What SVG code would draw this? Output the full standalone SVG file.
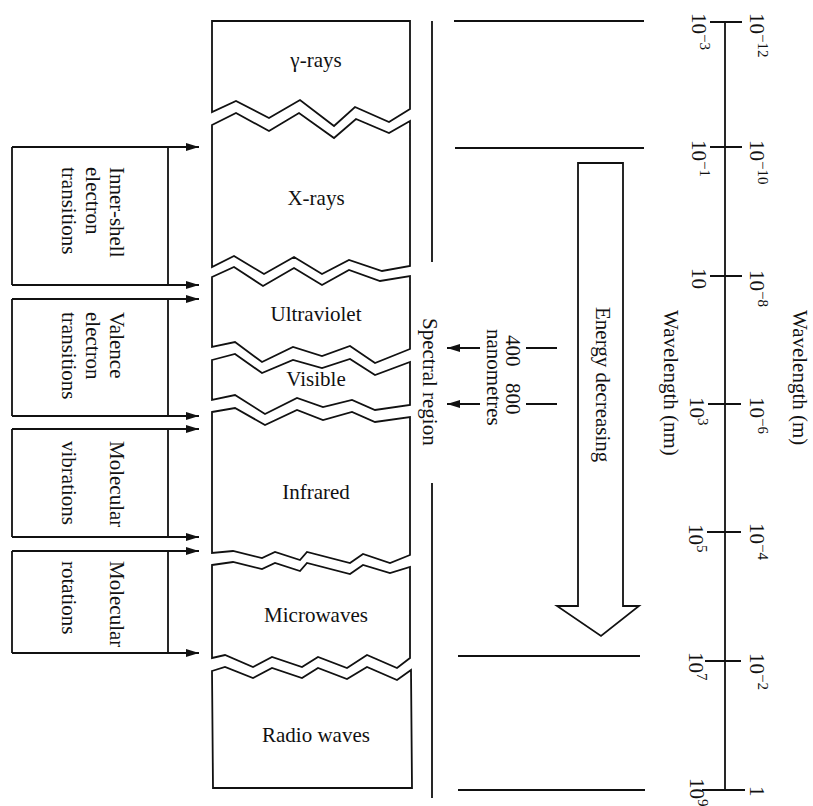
<svg xmlns="http://www.w3.org/2000/svg" width="813" height="806" viewBox="0 0 813 806">
<defs>
<marker id="ah" markerUnits="userSpaceOnUse" markerWidth="14" markerHeight="9" refX="13" refY="4" orient="auto">
<path d="M0,0 L13,4 L0,8 Z" fill="#111"/>
</marker>
<style>
.ln{fill:none;stroke:#111;stroke-width:1.8;stroke-linejoin:miter}
.t{font-family:"Liberation Serif","Times New Roman",serif;font-size:21px;fill:#111}
.c{text-anchor:middle}
.sup{font-size:15px}
</style>
</defs>
<rect width="813" height="806" fill="#fff"/>

<g id="bands">
<g id="gamma"><path class="ln" d="M212,112 L212,21 L410,21 L410,109 L389,122 L355,107 L334,126 L300,100 L269,118 L236,101 Z"/><text class="t c" x="316" y="67">γ-rays</text></g>
<g id="xrays"><path class="ln" d="M212,125 L236,113 L269,131 L299,113 L334,138 L356,119 L389,133 L410,121 L410,266 L382,271 L349,260 L322,274 L294,257 L264,274 L234,256 L212,267 Z"/><text class="t c" x="316" y="205">X-rays</text></g>
<g id="uv"><path class="ln" d="M212,277 L234,267 L263,286 L294,268 L322,285 L349,270 L380,281 L410,276 L410,349 L375,363 L350,346 L322,356 L293,347 L262,362 L235,342 L212,347 Z"/><text class="t c" x="316" y="321">Ultraviolet</text></g>
<g id="visible"><path class="ln" d="M212,360 L235,354 L262,373 L293,360 L322,368 L350,359 L375,375 L410,362 L410,405 L375,410 L352,400 L323,407 L297,398 L265,414 L235,395 L212,400 Z"/><text class="t c" x="316" y="386">Visible</text></g>
<g id="infrared"><path class="ln" d="M212,412 L235,408 L265,425 L297,410 L323,420 L352,412 L375,422 L410,417 L410,555 L390,563 L363,554 L350,563 L307,552 L300,560 L275,552 L262,558 L233,551 L212,553 Z"/><text class="t c" x="316" y="499">Infrared</text></g>
<g id="microwaves"><path class="ln" d="M212,565 L233,562 L262,569 L275,563 L300,571 L307,563 L350,574 L363,565 L390,573 L410,567 L410,658 L397,668 L367,655 L347,668 L318,657 L302,667 L272,657 L253,667 L225,655 L212,658 Z"/><text class="t c" x="316" y="622">Microwaves</text></g>
<g id="radio"><path class="ln" d="M212,671 L225,667 L253,678 L272,668 L302,678 L318,668 L347,679 L367,667 L397,680 L411,670 L412,788 L213,788 Z"/><text class="t c" x="316" y="742">Radio waves</text></g>
</g>

<g id="transitions">
<g id="inner-shell"><path class="ln" d="M12,147 L12,285 M168,147 L168,285"/>
<text class="t" transform="translate(110,167) rotate(90)">Inner-shell</text>
<text class="t" transform="translate(86,167) rotate(90)">electron</text>
<text class="t" transform="translate(62,167) rotate(90)">transitions</text></g>
<g id="valence"><path class="ln" d="M12,299 L12,416 M168,299 L168,416"/>
<text class="t" transform="translate(110,312) rotate(90)">Valence</text>
<text class="t" transform="translate(86,312) rotate(90)">electron</text>
<text class="t" transform="translate(62,312) rotate(90)">transitions</text></g>
<g id="vibrations"><path class="ln" d="M12,429 L12,537 M168,429 L168,537"/>
<text class="t" transform="translate(110,441) rotate(90)">Molecular</text>
<text class="t" transform="translate(62,441) rotate(90)">vibrations</text></g>
<g id="rotations"><path class="ln" d="M12,551 L12,653 M168,551 L168,653"/>
<text class="t" transform="translate(110,561) rotate(90)">Molecular</text>
<text class="t" transform="translate(62,561) rotate(90)">rotations</text></g>
</g>

<g id="connectors">
<path class="ln" marker-end="url(#ah)" d="M12,147 L199,147"/>
<path class="ln" marker-end="url(#ah)" d="M12,285 L199,285"/>
<path class="ln" marker-end="url(#ah)" d="M12,299 L199,299"/>
<path class="ln" marker-end="url(#ah)" d="M12,416 L199,416"/>
<path class="ln" marker-end="url(#ah)" d="M12,429 L199,429"/>
<path class="ln" marker-end="url(#ah)" d="M12,537 L199,537"/>
<path class="ln" marker-end="url(#ah)" d="M12,551 L199,551"/>
<path class="ln" marker-end="url(#ah)" d="M12,653 L199,653"/>
<path class="ln" marker-end="url(#ah)" d="M480,348 L447,348"/>
<path class="ln" marker-end="url(#ah)" d="M480,404 L447,404"/>
</g>

<g id="spectral-region">
<path class="ln" d="M432,21 L432,262 M432,483 L432,798"/>
<text class="t" transform="translate(423,318) rotate(90)">Spectral region</text>
</g>

<g id="visible-limits">
<path class="ln" d="M526,348 L557,348 M526,404 L557,404"/>
<text class="t" transform="translate(506,335) rotate(90)">400</text>
<text class="t" transform="translate(506,383) rotate(90)">800</text>
<text class="t" transform="translate(487,329) rotate(90)">nanometres</text>
</g>

<g id="energy">
<path class="ln" d="M578,163 L623,163 L623,606 L639,606 L601,636 L557,606 L578,606 Z"/>
<text class="t" transform="translate(596,307) rotate(90)">Energy decreasing</text>
</g>

<g id="guides">
<path class="ln" d="M454,21 L644,21 M455,148 L644,148 M458,656 L640,656 M458,790 L645,790"/>
</g>

<g id="scale">
<path class="ln" d="M725,22 L725,790 M710,22 L742,22 M710,147 L742,147 M710,276 L742,276 M708,404 L741,404 M707,532 L741,532 M705,661 L741,661 M702,790 L745,790"/>
<text class="t" transform="translate(750,13) rotate(90)">10<tspan class="sup" dy="-8">−12</tspan></text>
<text class="t" transform="translate(750,140) rotate(90)">10<tspan class="sup" dy="-8">−10</tspan></text>
<text class="t" transform="translate(750,270) rotate(90)">10<tspan class="sup" dy="-8">−8</tspan></text>
<text class="t" transform="translate(750,397) rotate(90)">10<tspan class="sup" dy="-8">−6</tspan></text>
<text class="t" transform="translate(750,523) rotate(90)">10<tspan class="sup" dy="-8">−4</tspan></text>
<text class="t" transform="translate(750,653) rotate(90)">10<tspan class="sup" dy="-8">−2</tspan></text>
<text class="t" transform="translate(750,786) rotate(90)">1</text>
<text class="t" transform="translate(692,13) rotate(90)">10<tspan class="sup" dy="-8">−3</tspan></text>
<text class="t" transform="translate(692,140) rotate(90)">10<tspan class="sup" dy="-8">−1</tspan></text>
<text class="t" transform="translate(692,268) rotate(90)">10</text>
<text class="t" transform="translate(690,397) rotate(90)">10<tspan class="sup" dy="-8">3</tspan></text>
<text class="t" transform="translate(689,524) rotate(90)">10<tspan class="sup" dy="-8">5</tspan></text>
<text class="t" transform="translate(689,652) rotate(90)">10<tspan class="sup" dy="-8">7</tspan></text>
<text class="t" transform="translate(690,778) rotate(90)">10<tspan class="sup" dy="-8">9</tspan></text>
<text class="t" transform="translate(793,310) rotate(90)">Wavelength (m)</text>
<text class="t" transform="translate(664,310) rotate(90)">Wavelength (nm)</text>
</g>
</svg>
